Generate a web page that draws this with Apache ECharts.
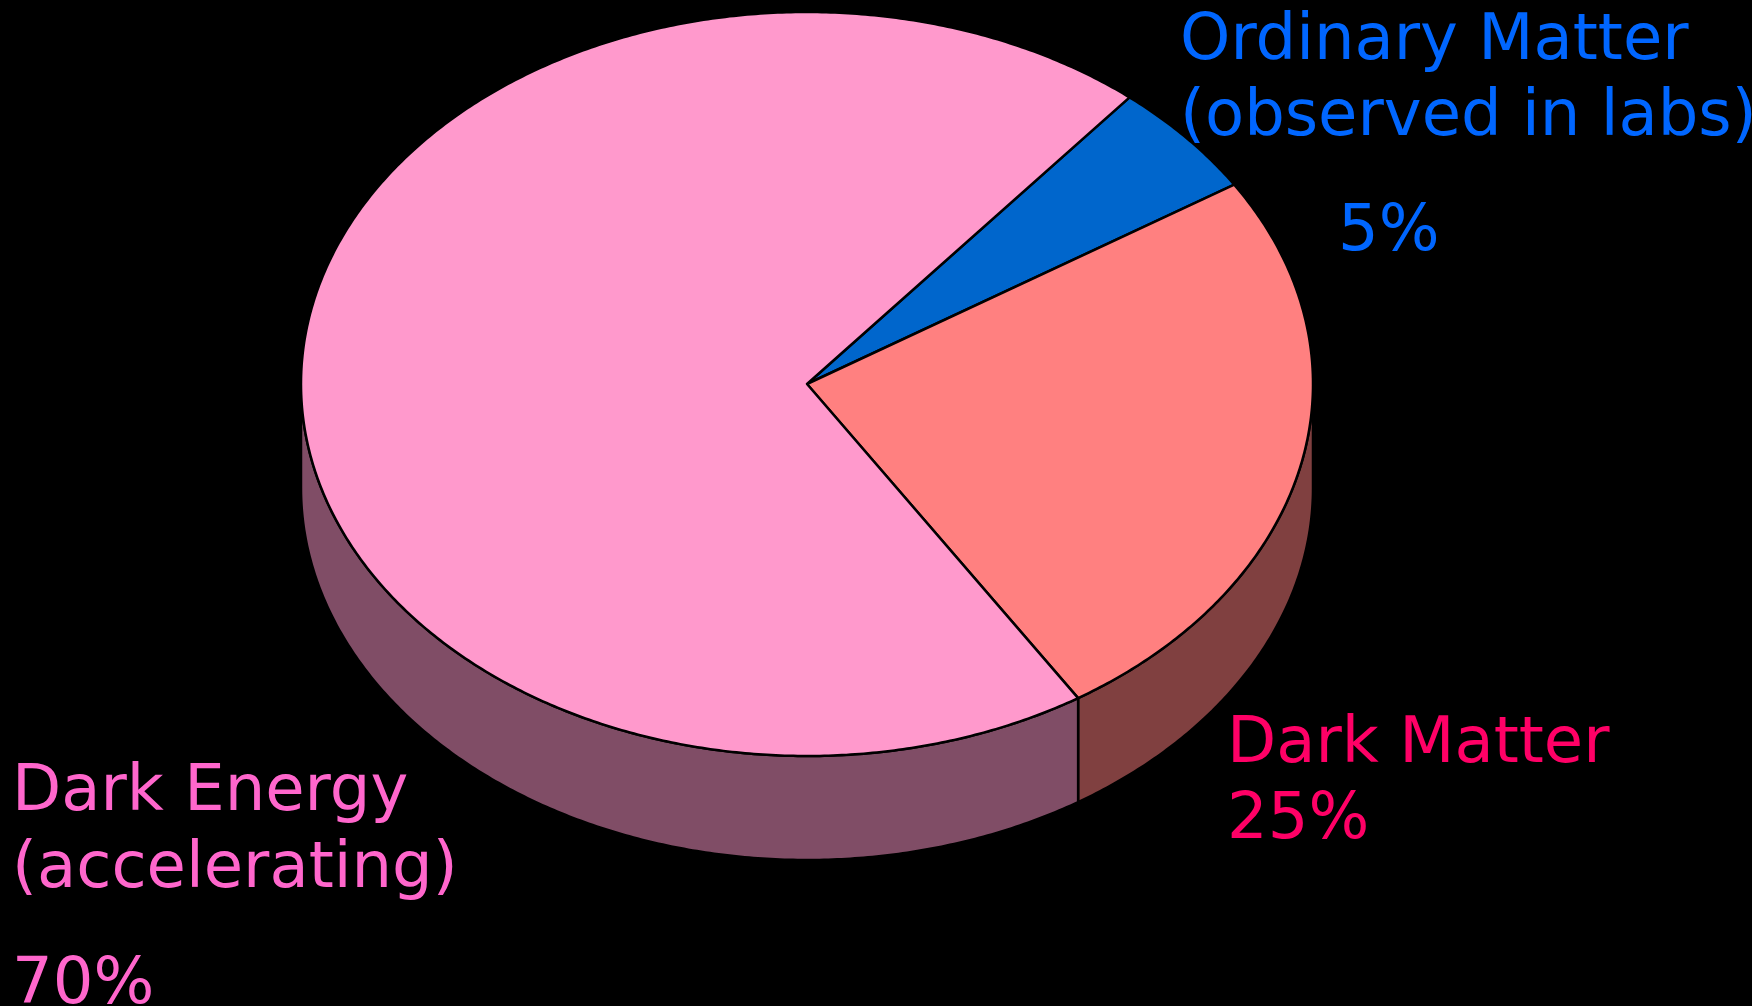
<!DOCTYPE html>
<html>
<head>
<meta charset="utf-8">
<script src="https://cdn.jsdelivr.net/npm/echarts@6/dist/echarts.min.js"></script>
<style>
html,body{margin:0;padding:0;background:#000;}
#main{width:1752px;height:1006px;}
</style>
</head>
<body>
<div id="main"></div>
<script>
// ---- data ----
const categories = ['Ordinary Matter', 'Dark Matter', 'Dark Energy'];
const subtitles = ['(observed in labs)', '', '(accelerating)'];
const values = [5, 25, 70];
const percentLabels = ['5%', '25%', '70%'];

// ---- styles ----
const topColors = ['#0066CC', '#FF8080', '#FF99CC'];
const sideColors = ['#003366', '#804040', '#804D66'];
const labelColors = ['#0066FF', '#FF0066', '#FF66CC'];

// ---- layout ----
const CX = 807, CY = 384, RX = 506, RY = 372, DEPTH = 104;
const START = 50.4; // degrees, clockwise
const FONT = '64px "DejaVu Sans", Verdana, sans-serif';

const total = values.reduce((a, b) => a + b, 0);
function sliceRange(i) {
  let before = 0;
  for (let k = 0; k < i; k++) before += values[k];
  const hi = START - before / total * 360;
  const lo = START - (before + values[i]) / total * 360;
  return [lo, hi];
}
function pt(t, dy) {
  const r = t * Math.PI / 180;
  return [CX + RX * Math.cos(r), CY - RY * Math.sin(r) + (dy || 0)];
}
function arc(a, b, dy) {
  const pts = [];
  const n = Math.max(2, Math.ceil(Math.abs(b - a) / 0.5));
  for (let j = 0; j <= n; j++) pts.push(pt(a + (b - a) * j / n, dy));
  return pts;
}

function renderTop(params, api) {
  const i = params.dataIndex;
  const [lo, hi] = sliceRange(i);
  const pts = [[CX, CY]].concat(arc(hi, lo));
  return {
    type: 'polygon',
    shape: { points: pts },
    style: { fill: topColors[i], stroke: '#000', lineWidth: 2.5, lineJoin: 'round' },
    z2: 10
  };
}
function renderSide(params, api) {
  const i = params.dataIndex;
  const [lo, hi] = sliceRange(i);
  const children = [];
  [[-540, -360], [-180, 0], [180, 360]].forEach(([fa, fb]) => {
    const a = Math.max(lo, fa), b = Math.min(hi, fb);
    if (b > a) {
      const top = arc(a, b, 0);
      const bot = arc(b, a, DEPTH);
      children.push({
        type: 'polygon',
        shape: { points: top.concat(bot) },
        style: { fill: sideColors[i], stroke: '#000', lineWidth: 2.5, lineJoin: 'round' }
      });
    }
  });
  return { type: 'group', children: children };
}

// labels
const labelPos = [
  { x: 1180, lines: [59, 135], px: 1338, pb: 250 },
  { x: 1227, lines: [762], px: 1227, pb: 838 },
  { x: 12, lines: [810, 887], px: 12, pb: 1003 }
];
const graphics = [];
categories.forEach((name, i) => {
  const texts = [name];
  if (subtitles[i]) texts.push(subtitles[i]);
  const p = labelPos[i];
  texts.forEach((t, k) => {
    graphics.push({
      type: 'text', x: p.x, y: p.lines[k] - 17,
      style: { text: t, font: FONT, fill: labelColors[i], textAlign: 'left', textVerticalAlign: 'middle' },
      silent: true
    });
  });
  graphics.push({
    type: 'text', x: p.px, y: p.pb - 17,
    style: { text: percentLabels[i], font: FONT, fill: labelColors[i], textAlign: 'left', textVerticalAlign: 'middle' },
    silent: true
  });
});

const chart = echarts.init(document.getElementById('main'), null, { renderer: 'canvas' });
chart.setOption({
  backgroundColor: '#000',
  animation: false,
  series: [
    { type: 'custom', coordinateSystem: 'none', renderItem: renderSide, data: values, z: 1, silent: true },
    { type: 'custom', coordinateSystem: 'none', renderItem: renderTop, data: values, z: 2, silent: true }
  ],
  graphic: graphics
});
</script>
</body>
</html>
